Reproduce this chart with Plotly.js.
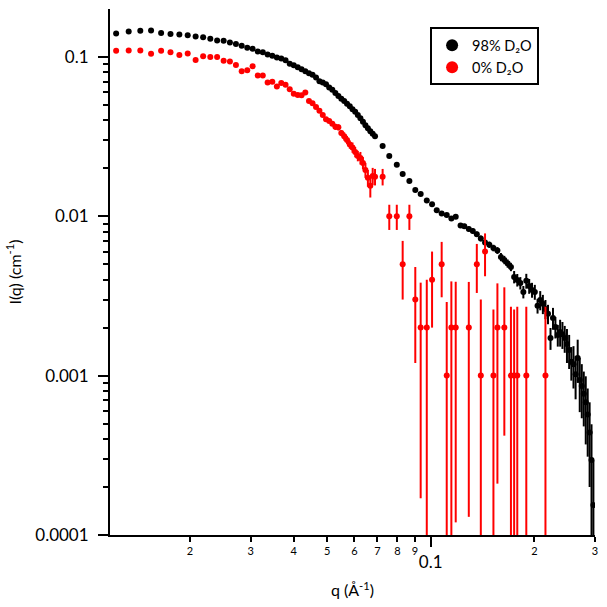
<!DOCTYPE html>
<html>
<head>
<meta charset="utf-8">
<script src="https://cdn.plot.ly/plotly-3.0.1.min.js"></script>
<style>html,body{margin:0;padding:0;background:#fff;}#chart{width:607px;height:607px;}</style>
</head>
<body>
<div id="chart"></div>
<script>
// ---- 98% D2O (black) ----
const qBlack = [
  0.0122, 0.01327, 0.01434, 0.01541, 0.01648, 0.01755, 0.01862, 0.01969, 0.02076, 0.02183,
  0.0229, 0.02397, 0.02504, 0.02611, 0.02718, 0.02825, 0.02932, 0.03039, 0.03146, 0.03253,
  0.0336, 0.03467, 0.03574, 0.03681, 0.03788, 0.03895, 0.04002, 0.04109, 0.04216, 0.04323,
  0.0443, 0.04537, 0.04644, 0.04751, 0.04858, 0.04965, 0.05072, 0.05179, 0.05286, 0.05393,
  0.055, 0.05607, 0.05714, 0.05821, 0.05928, 0.06035, 0.06142, 0.06249, 0.06356, 0.06463,
  0.0657, 0.06677, 0.06784, 0.06891,
  0.0725, 0.0758, 0.0797, 0.0829, 0.0867, 0.0902, 0.0935, 0.0974, 0.1009, 0.1041,
  0.1076, 0.1113, 0.1148, 0.1182, 0.1221, 0.1252, 0.129, 0.1325, 0.1361, 0.1398,
  0.1438, 0.148, 0.1521, 0.1562,
  0.1599, 0.1636, 0.1673, 0.171, 0.1747, 0.1784, 0.1821, 0.1858, 0.1895, 0.1932,
  0.1969, 0.2006, 0.2043, 0.208, 0.2117, 0.2154, 0.2191, 0.2228, 0.2265, 0.2302,
  0.2339, 0.2376, 0.2413, 0.245, 0.2487, 0.2524, 0.2561, 0.2598, 0.2635, 0.2672,
  0.2709, 0.2746, 0.2783, 0.282, 0.2857, 0.2894, 0.2931, 0.2968
];
const iBlack = [
  0.1400, 0.1441, 0.1456, 0.1463, 0.1409, 0.1388, 0.1380, 0.1368, 0.1341, 0.1329,
  0.1297, 0.1265, 0.1260, 0.1230, 0.1202, 0.1173, 0.1139, 0.1123, 0.1080, 0.1070,
  0.1033, 0.1015, 0.0990, 0.0976, 0.0951, 0.0904, 0.0884, 0.0859, 0.0835, 0.0811,
  0.0790, 0.0771, 0.0743, 0.0702, 0.0689, 0.0674, 0.0642, 0.0622, 0.0594, 0.0567,
  0.0546, 0.0528, 0.0508, 0.0489, 0.0469, 0.0452, 0.0432, 0.0411, 0.0391, 0.0372,
  0.0356, 0.0341, 0.0329, 0.0317,
  0.0276, 0.0239, 0.0210, 0.0184, 0.01665, 0.01462, 0.0138, 0.01257, 0.01189, 0.01088,
  0.01041, 0.01016, 0.00969, 0.00993, 0.00876, 0.00866, 0.00832, 0.00808, 0.00771, 0.00726,
  0.00685, 0.00663, 0.00632, 0.00610,
  0.00555, 0.00532, 0.00505, 0.00481, 0.00416, 0.00398, 0.00381, 0.00335, 0.00393, 0.00365,
  0.00345, 0.00335, 0.00274, 0.00298, 0.00282, 0.00262, 0.00244, 0.00172, 0.0023, 0.00202,
  0.0018, 0.00188, 0.00182, 0.00172, 0.00158, 0.00145, 0.00122, 0.00118, 0.00102, 0.00129,
  0.00094, 0.00086, 0.00077, 0.00068, 0.00057, 0.00044, 0.000295, 0.000154
];
const errBlack = [
  0.0012, 0.0012, 0.0012, 0.0012, 0.0012, 0.0011, 0.0011, 0.0011, 0.0011, 0.0011,
  0.0010, 0.0010, 0.0010, 0.0010, 0.0010, 0.0009, 0.0009, 0.0009, 0.0009, 0.0009,
  0.0008, 0.0008, 0.0008, 0.0008, 0.0008, 0.0007, 0.0007, 0.0007, 0.0007, 0.0007,
  0.0006, 0.0006, 0.0006, 0.0006, 0.0006, 0.0005, 0.0005, 0.0005, 0.0005, 0.0005,
  0.0005, 0.0005, 0.0005, 0.0005, 0.0005, 0.0004, 0.0004, 0.0004, 0.0004, 0.0004,
  0.0004, 0.0004, 0.0004, 0.0004,
  0.0003, 0.0003, 0.0003, 0.0003, 0.0003, 0.0003, 0.0003, 0.0003, 0.0003, 0.0003,
  0.0003, 0.0003, 0.0003, 0.0003, 0.0003, 0.0003, 0.0003, 0.0003, 0.0003, 0.0003,
  0.0003, 0.0003, 0.0003, 0.0003,
  0.00033, 0.00032, 0.0003, 0.00029, 0.00037, 0.00036, 0.00034, 0.0003, 0.00042, 0.00039,
  0.00037, 0.00036, 0.00029, 0.00041, 0.00039, 0.00036, 0.00034, 0.00027, 0.00036, 0.00031,
  0.00028, 0.00036, 0.00035, 0.00033, 0.00038, 0.00035, 0.00029, 0.00035, 0.00031, 0.00039,
  0.00035, 0.00032, 0.00029, 0.00031, 0.00026, 0.00024, 0.0002, 0.00014
];

// ---- 0% D2O (red) ----
const qRed = [
  0.0122, 0.01327, 0.01434, 0.01541, 0.01648, 0.01755, 0.01862, 0.01969, 0.02076, 0.02183,
  0.0229, 0.02397, 0.02504, 0.02611, 0.02718, 0.02825, 0.02932, 0.03039, 0.03146, 0.03253,
  0.0336, 0.03467, 0.03574, 0.03681, 0.03788, 0.03895, 0.04002, 0.04109, 0.04216, 0.04323,
  0.0443, 0.04537, 0.04644, 0.04751, 0.04858, 0.04965, 0.05072, 0.05179, 0.05286, 0.05393,
  0.055, 0.05607, 0.05714, 0.05821, 0.05928, 0.06035, 0.06142, 0.06249, 0.06356, 0.06463,
  0.0657, 0.06677, 0.06784, 0.06891,
  0.0725, 0.0758, 0.0797, 0.0829, 0.0867, 0.0902, 0.0935, 0.0974, 0.1009, 0.1076,
  0.1113, 0.1148, 0.1182, 0.129, 0.1361, 0.1398, 0.1438, 0.1521, 0.1562, 0.1636,
  0.171, 0.1747, 0.1784, 0.1895, 0.2154
];
const iRed = [
  0.1091, 0.1095, 0.1095, 0.1044, 0.1091, 0.1070, 0.1025, 0.1049, 0.0954, 0.1010,
  0.0996, 0.0996, 0.0944, 0.0934, 0.0887, 0.0813, 0.0825, 0.0874, 0.0763, 0.0763,
  0.0690, 0.0697, 0.0651, 0.0684, 0.0667, 0.0627, 0.0586, 0.0577, 0.0573, 0.0597,
  0.0529, 0.0511, 0.0485, 0.0458, 0.0432, 0.0406, 0.0396, 0.0380, 0.0364, 0.0361,
  0.0333, 0.0317, 0.0301, 0.0282, 0.0270, 0.0253, 0.0239, 0.0232, 0.0216, 0.0195,
  0.0174, 0.0155, 0.0179, 0.0177,
  0.0177, 0.01, 0.01, 0.005, 0.01, 0.003, 0.002, 0.002, 0.004, 0.005,
  0.001, 0.002, 0.002, 0.002, 0.005, 0.001, 0.006, 0.001, 0.002, 0.002,
  0.001, 0.001, 0.001, 0.001, 0.001
];
const errRed = [
  0.0010, 0.0010, 0.0010, 0.0010, 0.0010, 0.0010, 0.0010, 0.0010, 0.0010, 0.0010,
  0.0010, 0.0010, 0.0010, 0.0010, 0.0010, 0.0010, 0.0010, 0.0010, 0.0010, 0.0010,
  0.0010, 0.0010, 0.0010, 0.0010, 0.0010, 0.0010, 0.0010, 0.0010, 0.0010, 0.0010,
  0.0010, 0.0010, 0.0010, 0.0010, 0.0010, 0.0010, 0.00115, 0.0011, 0.0016, 0.0016,
  0.00147, 0.0019, 0.0018, 0.0017, 0.002, 0.0019, 0.0018, 0.0021, 0.0019, 0.0021,
  0.0021, 0.0024, 0.0022, 0.0021,
  0.0021, 0.0018, 0.0018, 0.002, 0.0018, 0.0018, 0.00183, 0.002, 0.002, 0.0019,
  0.0019, 0.0019, 0.00188, 0.00187, 0.0017, 0.002, 0.0018, 0.0016, 0.00179, 0.00158,
  0.0017, 0.0016, 0.0017, 0.0017, 0.0017
];

// ---- axis ticks ----
const xMinorVals = [0.02, 0.03, 0.04, 0.05, 0.06, 0.07, 0.08, 0.09, 0.2, 0.3];
const xMinorText = ['2', '3', '4', '5', '6', '7', '8', '9', '2', '3'];
const xMajorVals = [0.1];
const xMajorText = ['0.1'];
const yMajorVals = [0.0001, 0.001, 0.01, 0.1];
const yMajorText = ['0.0001', '0.001', '0.01', '0.1'];
const yMinorVals = [
  0.0002, 0.0003, 0.0004, 0.0005, 0.0006, 0.0007, 0.0008, 0.0009,
  0.002, 0.003, 0.004, 0.005, 0.006, 0.007, 0.008, 0.009,
  0.02, 0.03, 0.04, 0.05, 0.06, 0.07, 0.08, 0.09
];

const FONT = 'Lato, "Open Sans", sans-serif';
const xRange = [Math.log10(0.01171), Math.log10(0.3)];
const yRange = [-4, -0.70];

const traces = [
  {
    x: qBlack, y: iBlack, type: 'scatter', mode: 'markers', name: '98% D₂O',
    xaxis: 'x', yaxis: 'y',
    marker: {color: '#000000', size: 6, symbol: 'circle'},
    error_y: {type: 'data', array: errBlack, visible: true, color: '#000000', thickness: 2, width: 0}
  },
  {
    x: qRed, y: iRed, type: 'scatter', mode: 'markers', name: '0% D₂O',
    xaxis: 'x2', yaxis: 'y',
    marker: {color: '#ff0000', size: 6, symbol: 'circle'},
    error_y: {type: 'data', array: errRed, visible: true, color: '#ff0000', thickness: 2, width: 0}
  }
];

const layout = {
  width: 607, height: 607,
  margin: {l: 110, r: 12, t: 9, b: 72, pad: 0},
  paper_bgcolor: '#ffffff', plot_bgcolor: '#ffffff',
  font: {family: FONT, color: '#000000', size: 16},
  showlegend: true,
  legend: {
    x: 0.66, y: 0.965, xanchor: 'left', yanchor: 'top',
    bordercolor: '#000000', borderwidth: 2, bgcolor: '#ffffff',
    font: {family: FONT, size: 14.5, color: '#000000'},
    itemsizing: 'constant', tracegroupgap: 0
  },
  xaxis: {
    type: 'log', range: xRange, autorange: false,
    showline: true, linecolor: '#000000', linewidth: 2, mirror: false,
    showgrid: false, zeroline: false,
    ticks: 'outside', ticklen: 5, tickwidth: 2, tickcolor: '#000000',
    tickmode: 'array', tickvals: xMinorVals, ticktext: xMinorText,
    tickfont: {family: FONT, size: 11, color: '#000000'},
    title: {text: 'q (Å<sup>-1</sup>)', font: {family: FONT, size: 16, color: '#000000'}, standoff: 29}
  },
  xaxis2: {
    type: 'log', range: xRange, autorange: false, overlaying: 'x', anchor: 'y', side: 'bottom',
    showline: false, showgrid: false, zeroline: false,
    ticks: 'outside', ticklen: 11, tickwidth: 2, tickcolor: '#000000',
    tickmode: 'array', tickvals: xMajorVals, ticktext: xMajorText,
    tickfont: {family: FONT, size: 17, color: '#000000'},
    ticklabelstandoff: 1
  },
  yaxis: {
    type: 'log', range: yRange, autorange: false,
    showline: true, linecolor: '#000000', linewidth: 2, mirror: false,
    showgrid: false, zeroline: false,
    ticks: 'outside', ticklen: 10, tickwidth: 2, tickcolor: '#000000',
    tickmode: 'array', tickvals: yMajorVals, ticktext: yMajorText,
    tickfont: {family: FONT, size: 17, color: '#000000'},
    ticklabelstandoff: 6,
    minor: {tickmode: 'array', tickvals: yMinorVals, ticks: 'outside', ticklen: 5, tickwidth: 2, tickcolor: '#000000', showgrid: false},
    title: {text: 'I(q) (cm<sup>-1</sup>)', font: {family: FONT, size: 16, color: '#000000'}, standoff: 10}
  }
};

Plotly.newPlot('chart', traces, layout, {displayModeBar: false, staticPlot: true});
</script>
</body>
</html>
